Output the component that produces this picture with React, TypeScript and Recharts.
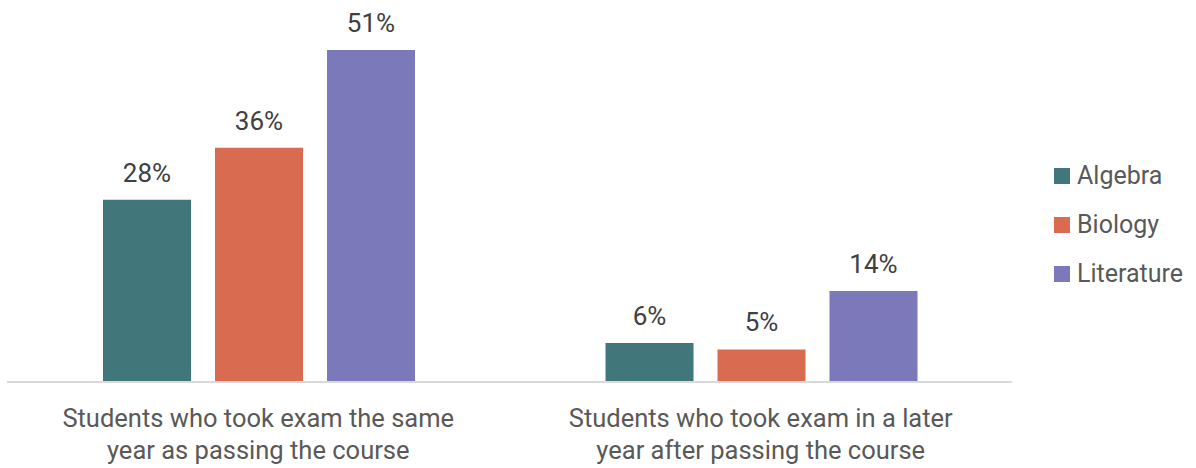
import { BarChart, Bar, XAxis, YAxis, LabelList } from 'recharts'

const categories = [
  'Students who took exam the same year as passing the course',
  'Students who took exam in a later year after passing the course',
]
const categoryLines = [
  ['Students who took exam the same', 'year as passing the course'],
  ['Students who took exam in a later', 'year after passing the course'],
]
const algebra = [28, 6]
const biology = [36, 5]
const literature = [51, 14]

const seriesNames = ['Algebra', 'Biology', 'Literature']
const seriesKeys = ['algebra', 'biology', 'literature']
const colors = ['#41777a', '#d96b50', '#7b79ba']

const data = categories.map((name, i) => ({
  name,
  algebra: algebra[i],
  biology: biology[i],
  literature: literature[i],
}))

const FONT = 'Roboto, "Open Sans", sans-serif'

function CategoryTick(props: any) {
  const { x, y, index } = props
  const lines = categoryLines[index] || []
  return (
    <text x={x} y={y} textAnchor="middle" fill="#595959" fontSize={25.5} fontFamily={FONT}>
      {lines.map((l, i) => (
        <tspan key={i} x={x} y={y + 45 + i * 32}>{l}</tspan>
      ))}
    </text>
  )
}

// legend drawn beside the plot so it does not shrink the plot area
function SideLegend() {
  return (
    <div style={{ position: 'absolute', left: 1054, top: 151, fontFamily: FONT, fontSize: 25, color: '#595959' }}>
      {seriesNames.map((n, i) => (
        <div key={n} style={{ display: 'flex', alignItems: 'center', height: 49 }}>
          <span style={{ width: 16, height: 16, background: colors[i], marginRight: 7, display: 'inline-block' }} />
          <span>{n}</span>
        </div>
      ))}
    </div>
  )
}

export default function App() {
  return (
    <div style={{ position: 'absolute', left: 0, top: 0, width: 1196, height: 468, background: '#fff' }}>
      <BarChart
        width={1196}
        height={468}
        data={data}
        margin={{ top: 11, right: 184, left: 7, bottom: 0 }}
        barCategoryGap={96}
        barGap={24}
      >
        <XAxis
          dataKey="name"
          axisLine={{ stroke: '#d9d9d9', strokeWidth: 2 }}
          tickLine={false}
          tickSize={0}
          tickMargin={0}
          height={86}
          interval={0}
          tick={<CategoryTick />}
        />
        <YAxis hide domain={[0, 57]} />
        {seriesKeys.map((k, i) => (
          <Bar key={k} dataKey={k} name={seriesNames[i]} fill={colors[i]} isAnimationActive={false}>
            <LabelList
              dataKey={k}
              position="top"
              offset={18}
              formatter={(v: any) => `${v}%`}
              fill="#404040"
              fontSize={26}
              fontFamily={FONT}
            />
          </Bar>
        ))}
      </BarChart>
      <SideLegend />
    </div>
  )
}
